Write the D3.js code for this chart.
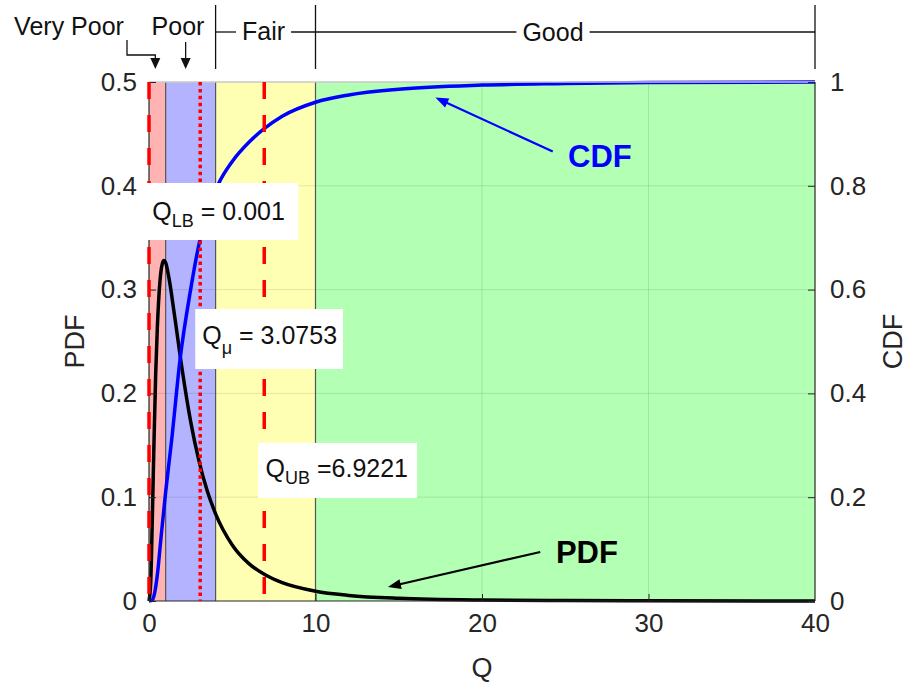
<!DOCTYPE html>
<html>
<head>
<meta charset="utf-8">
<script src="https://cdn.jsdelivr.net/npm/d3@7"></script>
<style>
  body { margin: 0; background: #fff; }
  text { font-family: "Liberation Sans", Arial, Helvetica, sans-serif; }
</style>
</head>
<body>
<svg id="chart" width="909" height="689"></svg>
<script>
// ---- data ----
const qTicks   = [0, 10, 20, 30, 40];
const pdfTicks = [0, 0.1, 0.2, 0.3, 0.4, 0.5];
const cdfTicks = [0, 0.2, 0.4, 0.6, 0.8, 1];

// quality classes on Q
const classNames  = ["Very Poor", "Poor", "Fair", "Good"];
const classEdges  = [0, 1, 4, 10, 40];
const classColors = ["#ffb3b3", "#b3b3ff", "#ffffb3", "#b3ffb3"];

// probability density of Q
const pdfQ   = [0, 0.1, 0.2, 0.3, 0.4, 0.5, 0.6, 0.7, 0.8, 0.9, 1.0, 1.2, 1.5, 2.0, 2.5, 3.0, 3.5, 4, 5, 6, 7, 8, 10, 12, 15, 20, 25, 30, 40];
const pdfVal = [0, 0.017, 0.08, 0.153, 0.218, 0.263, 0.295, 0.315, 0.325, 0.328, 0.326, 0.311, 0.279, 0.222, 0.173, 0.135, 0.106, 0.084, 0.054, 0.036, 0.025, 0.0176, 0.0094, 0.0054, 0.0026, 0.0009, 0.0004, 0.0002, 0.00004];

// cumulative distribution of Q
const cdfQ   = [0, 0.2, 0.3, 0.5, 0.7, 1.0, 1.36, 1.86, 2.5, 3.06, 3.5, 4.16, 5, 6, 6.92, 8, 10, 12, 15, 20, 25, 30, 40];
const cdfVal = [0, 0.002, 0.01, 0.05, 0.115, 0.21, 0.31, 0.464, 0.60, 0.696, 0.748, 0.803, 0.847, 0.884, 0.91, 0.934, 0.961, 0.975, 0.986, 0.994, 0.997, 0.999, 1.0];

// bounds: lower, mean, upper
const boundNames  = ["LB", "μ", "UB"];
const boundValues = [0.001, 3.0753, 6.9221];
const boundTexts  = [" = 0.001", " = 3.0753", " =6.9221"];
const boundDash   = ["17,16", "3.5,3.4", "17,16"];

// ---- layout ----
const svg = d3.select("#chart");
const W = 909, H = 689;
const m = { left: 149, right: 94, top: 82, bottom: 88 };
const x  = d3.scaleLinear().domain([0, 40]).range([m.left, W - m.right]);
const yL = d3.scaleLinear().domain([0, 0.5]).range([H - m.bottom, m.top]);
const yR = d3.scaleLinear().domain([0, 1]).range([H - m.bottom, m.top]);
const x0 = x(0), x1 = x(40), yb = yL(0), yt = yL(0.5);
const axisColor = "#262626";

// class bands
const bands = classNames.map((n, i) => ({ name: n, a: classEdges[i], b: classEdges[i + 1], c: classColors[i] }));
svg.append("g").selectAll("rect").data(bands).join("rect")
  .attr("x", d => x(d.a)).attr("width", d => x(d.b) - x(d.a))
  .attr("y", yt).attr("height", yb - yt)
  .attr("fill", d => d.c);

// grid
const grid = svg.append("g").attr("stroke", "#000").attr("stroke-opacity", 0.1).attr("stroke-width", 1);
grid.selectAll(".gx").data(qTicks.slice(1, -1)).join("line")
  .attr("x1", d => x(d)).attr("x2", d => x(d)).attr("y1", yt).attr("y2", yb);
grid.selectAll(".gy").data(pdfTicks.slice(1, -1)).join("line")
  .attr("x1", x0).attr("x2", x1).attr("y1", d => yL(d)).attr("y2", d => yL(d));

// band edges
svg.append("g").selectAll("line").data(classEdges.slice(1, -1)).join("line")
  .attr("x1", d => x(d)).attr("x2", d => x(d)).attr("y1", yt).attr("y2", yb)
  .attr("stroke", "#555").attr("stroke-width", 1.2);

// curves
const pdfLine = d3.line().x(d => x(d[0])).y(d => yL(d[1])).curve(d3.curveMonotoneX);
const cdfLine = d3.line().x(d => x(d[0])).y(d => yR(d[1])).curve(d3.curveMonotoneX);
svg.append("path").datum(pdfQ.map((q, i) => [q, pdfVal[i]]))
  .attr("d", pdfLine).attr("fill", "none").attr("stroke", "#000").attr("stroke-width", 3.5);
svg.append("path").datum(cdfQ.map((q, i) => [q, cdfVal[i]]))
  .attr("d", cdfLine).attr("fill", "none").attr("stroke", "#0000ff").attr("stroke-width", 3.5);

// axis box
const axes = svg.append("g");
axes.append("line").attr("x1", x0).attr("x2", x1).attr("y1", yt).attr("y2", yt).attr("stroke", "#c8c8c8").attr("stroke-width", 1.5);
axes.append("line").attr("x1", x0).attr("x2", x1).attr("y1", yb).attr("y2", yb).attr("stroke", axisColor).attr("stroke-width", 1.2);
axes.append("line").attr("x1", x0).attr("x2", x0).attr("y1", yt).attr("y2", yb).attr("stroke", axisColor).attr("stroke-width", 1.2);
axes.append("line").attr("x1", x1).attr("x2", x1).attr("y1", yt).attr("y2", yb).attr("stroke", axisColor).attr("stroke-width", 1.2);

// axes via d3 (inward ticks)
const fs = 26;
const gx = svg.append("g").attr("transform", `translate(0,${yb})`)
  .call(d3.axisBottom(x).tickValues(qTicks).tickSize(-7).tickPadding(13).tickFormat(d3.format("d")));
const gl = svg.append("g").attr("transform", `translate(${x0},0)`)
  .call(d3.axisLeft(yL).tickValues(pdfTicks).tickSize(-7).tickPadding(12).tickFormat(d => d === 0 ? "0" : d3.format(".1f")(d)));
const gr = svg.append("g").attr("transform", `translate(${x1},0)`)
  .call(d3.axisRight(yR).tickValues(cdfTicks).tickSize(-7).tickPadding(15).tickFormat(d => (d === 0 || d === 1) ? String(d) : d3.format(".1f")(d)));
[gx, gl, gr].forEach(g => {
  g.select(".domain").remove();
  g.selectAll(".tick line").attr("stroke", axisColor).attr("stroke-width", 1);
  g.selectAll(".tick text").attr("fill", axisColor).attr("font-size", fs)
    .attr("font-family", "'Liberation Sans', Arial, sans-serif");
});
gx.selectAll(".tick line").filter(d => d === 0 || d === 40).remove();

// axis titles
svg.append("text").attr("x", x(20)).attr("y", 677).attr("text-anchor", "middle")
  .attr("font-size", 27).attr("fill", axisColor).text("Q");
svg.append("text").attr("transform", `translate(84,${(yt + yb) / 2}) rotate(-90)`).attr("text-anchor", "middle")
  .attr("font-size", 27).attr("fill", axisColor).text("PDF");
svg.append("text").attr("transform", `translate(902,${(yt + yb) / 2}) rotate(-90)`).attr("text-anchor", "middle")
  .attr("font-size", 27).attr("fill", axisColor).text("CDF");

// bound markers
svg.append("g").selectAll("line").data(boundValues).join("line")
  .attr("x1", d => x(d)).attr("x2", d => x(d)).attr("y1", yt).attr("y2", yb)
  .attr("stroke", "#ff0000").attr("stroke-width", 3.5)
  .attr("stroke-dasharray", (d, i) => boundDash[i]);

// bound labels: box extents [q0, q1, pdfTop, pdfBottom] and text origin [q, pdf]
const boxExt   = [[-0.12, 8.97, 0.4027, 0.3478], [2.78, 11.65, 0.2813, 0.2235], [6.55, 16.1, 0.1523, 0.0993]];
const textPos  = [[0.2, 0.367], [3.2, 0.2475], [7.0, 0.1195]];
boundNames.forEach((n, i) => {
  const b = boxExt[i];
  svg.append("rect").attr("x", x(b[0])).attr("y", yL(b[2]))
    .attr("width", x(b[1]) - x(b[0])).attr("height", yL(b[3]) - yL(b[2]))
    .attr("fill", "#fff");
  const t = svg.append("text").attr("x", x(textPos[i][0])).attr("y", yL(textPos[i][1]))
    .attr("font-size", 25).attr("fill", "#111");
  t.append("tspan").text("Q");
  t.append("tspan").attr("font-size", 18).attr("dy", n === "μ" ? 10 : 7).text(n);
  t.append("tspan").attr("dy", n === "μ" ? -10 : -7).text(boundTexts[i]);
});

// arrowhead helper
function arrowHead(g, tx, ty, fx, fy, len, half, color) {
  const a = Math.atan2(ty - fy, tx - fx);
  const bx = tx - len * Math.cos(a), by = ty - len * Math.sin(a);
  const px = -Math.sin(a) * half, py = Math.cos(a) * half;
  g.append("path").attr("d", `M${tx},${ty}L${bx + px},${by + py}L${bx - px},${by - py}Z`).attr("fill", color).attr("stroke", "none");
}

// curve callouts: [fromQ, fromY, toQ, toY]
const cdfCall = [24.25, 0.866, 17.2, 0.97];
const pdfCall = [23.5, 0.0472, 14.35, 0.0135];
const ann = svg.append("g");
{
  const fx = x(cdfCall[0]), fy = yR(cdfCall[1]), tx = x(cdfCall[2]), ty = yR(cdfCall[3]);
  const a = Math.atan2(ty - fy, tx - fx);
  ann.append("line").attr("x1", fx).attr("y1", fy).attr("x2", tx - 10 * Math.cos(a)).attr("y2", ty - 10 * Math.sin(a))
    .attr("stroke", "#0000ff").attr("stroke-width", 2.2);
  arrowHead(ann, tx, ty, fx, fy, 13, 5, "#0000ff");
  ann.append("text").attr("x", x(25.17)).attr("y", yR(0.836)).attr("font-size", 31).attr("font-weight", "bold")
    .attr("fill", "#0000ff").text("CDF");
}
{
  const fx = x(pdfCall[0]), fy = yL(pdfCall[1]), tx = x(pdfCall[2]), ty = yL(pdfCall[3]);
  const a = Math.atan2(ty - fy, tx - fx);
  ann.append("line").attr("x1", fx).attr("y1", fy).attr("x2", tx - 10 * Math.cos(a)).attr("y2", ty - 10 * Math.sin(a))
    .attr("stroke", "#000").attr("stroke-width", 2.2);
  arrowHead(ann, tx, ty, fx, fy, 13, 5, "#000");
  ann.append("text").attr("x", x(24.44)).attr("y", yL(0.0366)).attr("font-size", 31).attr("font-weight", "bold")
    .attr("fill", "#000").text("PDF");
}

// class labels above the plot
const header = svg.append("g").attr("fill", "#111").attr("stroke", "#111");
const hy = 32;
header.append("text").attr("x", 69).attr("y", 35).attr("text-anchor", "middle").attr("stroke", "none")
  .attr("font-size", 25).text(classNames[0]);
header.append("text").attr("x", 178).attr("y", 35).attr("text-anchor", "middle").attr("stroke", "none")
  .attr("font-size", 25).text(classNames[1]);
const fairX = (x(4) + x(10)) / 2 - 2;
const goodX = 553;
const fairT = header.append("text").attr("x", fairX).attr("y", 40).attr("text-anchor", "middle").attr("stroke", "none")
  .attr("font-size", 25).text(classNames[2]);
const goodT = header.append("text").attr("x", goodX).attr("y", 41).attr("text-anchor", "middle").attr("stroke", "none")
  .attr("font-size", 25).text(classNames[3]);
const fw = fairT.node().getComputedTextLength(), gw = goodT.node().getComputedTextLength();
// brackets at class edges 4, 10, 40
[4, 10, 40].forEach(q => header.append("line").attr("x1", x(q)).attr("x2", x(q)).attr("y1", 5).attr("y2", 69).attr("stroke-width", 1.3));
header.append("line").attr("x1", x(4)).attr("x2", fairX - fw / 2 - 6).attr("y1", hy).attr("y2", hy).attr("stroke-width", 1.3);
header.append("line").attr("x1", fairX + fw / 2 + 6).attr("x2", goodX - gw / 2 - 6).attr("y1", hy).attr("y2", hy).attr("stroke-width", 1.3);
header.append("line").attr("x1", goodX + gw / 2 + 6).attr("x2", x(40)).attr("y1", hy).attr("y2", hy).attr("stroke-width", 1.3);
// leaders to the two narrow classes
const vpx = x(0.38), px = x(2.2);
header.append("path").attr("d", `M127,40V55H${vpx}V59`).attr("fill", "none").attr("stroke-width", 1.3);
arrowHead(header, vpx, 69, vpx, 40, 11, 5, "#111");
header.append("line").attr("x1", px).attr("x2", px).attr("y1", 42).attr("y2", 59).attr("stroke-width", 1.3);
arrowHead(header, px, 69, px, 42, 11, 5, "#111");
</script>
</body>
</html>
